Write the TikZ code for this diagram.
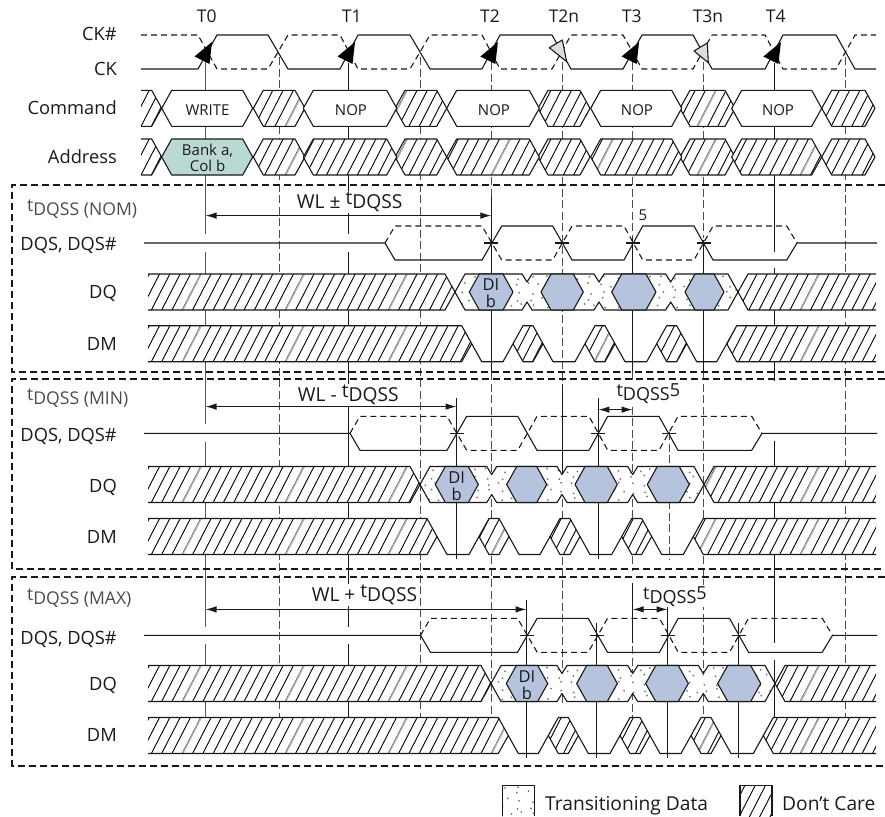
\documentclass[tikz,border=0pt]{standalone}
\usepackage{fontspec}
\usepackage{xcolor}
\usetikzlibrary{arrows.meta}
\setmainfont{Open Sans}
\definecolor{inkdark}{HTML}{1A1A1A}
\definecolor{bankteal}{HTML}{BAD8D4}
\definecolor{dataslate}{HTML}{B6C3DC}
\definecolor{edgegray}{HTML}{DDDDDD}
\newcommand{\tdqss}{\raisebox{4pt}{t}DQSS}

\tikzset{
    wave/.style={line width=1.1pt, black!90, line join=round},
    wavedash/.style={wave, dash pattern=on 6pt off 4pt},
    hatchline/.style={line width=0.9pt, black},
    hatchgray/.style={line width=1.4pt, black!30},
    dotmark/.style={black!55},
    griddash/.style={line width=1.1pt, black!70, dash pattern=on 8pt off 3.5pt},
    gridsolid/.style={line width=1.1pt, black!90},
    gridgray/.style={line width=1.5pt, black!65},
    panelline/.style={line width=1.8pt, black!90, dash pattern=on 7pt off 4pt},
    rowlabel/.style={anchor=base east, inner sep=0pt, text=inkdark, font=\fontsize{18.3}{20}\selectfont},
    panellabel/.style={anchor=base west, inner sep=0pt, text=black!70, font=\fontsize{17.6}{20}\selectfont},
    clklabel/.style={anchor=base, inner sep=0pt, text=inkdark, font=\fontsize{17.5}{20}\selectfont},
    spanlabel/.style={anchor=base, inner sep=1pt, fill=white, text=inkdark, font=\fontsize{19.2}{21}\selectfont},
    shortlabel/.style={anchor=base, inner sep=1pt, fill=white, text=inkdark, font=\fontsize{18}{21}\selectfont},
    legendlabel/.style={anchor=base west, inner sep=0pt, text=inkdark, font=\fontsize{19.2}{21}\selectfont},
    cmdlabel/.style={anchor=base, inner sep=0pt, text=inkdark, font=\fontsize{15}{16}\selectfont},
    dilabel/.style={inner sep=0pt, align=center, text=inkdark, font=\fontsize{16.5}{16.7}\selectfont},
    spanarrow/.style={{Latex[length=11pt,width=6.5pt]}-{Latex[length=11pt,width=6.5pt]}, line width=1.1pt, black!90},
}

% slanted hatching of a band around the height #1
\newcommand{\hatchlines}[1]{
    \foreach \x in {140,150.3,...,900} {
        \draw[hatchline] ({\x+9.5},{#1-18.5}) -- ({\x-9.5},{#1+18.5});
    }
    \foreach \x in {192,295,...,900} {
        \draw[hatchgray] ({\x+9.5},{#1-18.5}) -- ({\x-9.5},{#1+18.5});
    }
}
% loose dots of a band around the height #1
\newcommand{\dotlines}[1]{
    \foreach \x in {400,412,...,800} {
        \foreach \d/\o in {-14/0, -7/6, 0/2, 7/8, 14/4} {
            \fill[dotmark] ({\x+\o+3*sin(4.7*\x+23*\d)},{#1+\d+2*cos(6.1*\x+17*\d)}) circle (1pt);
        }
    }
}
% #1,#2 flat top, #3 height
\newcommand{\hexpath}[3]{({#1-10},#3) -- (#1,{#3-18}) -- (#2,{#3-18}) -- ({#2+10},#3) -- (#2,{#3+18}) -- (#1,{#3+18}) -- cycle}
\newcommand{\hatchhex}[3]{
    \fill[white] \hexpath{#1}{#2}{#3};
    \begin{scope}
        \clip \hexpath{#1}{#2}{#3};
        \hatchlines{#3}
    \end{scope}
    \draw[wave] \hexpath{#1}{#2}{#3};
}
\newcommand{\plainhex}[4]{
    \filldraw[wave, fill=#4] \hexpath{#1}{#2}{#3};
}
% hatched band cut off on the left
\newcommand{\hatchleft}[3]{
    \fill[white] (#1,{#3-18}) -- (#2,{#3-18}) -- ({#2+10},#3) -- (#2,{#3+18}) -- (#1,{#3+18}) -- cycle;
    \begin{scope}
        \clip (#1,{#3-18}) -- (#2,{#3-18}) -- ({#2+10},#3) -- (#2,{#3+18}) -- (#1,{#3+18}) -- cycle;
        \hatchlines{#3}
    \end{scope}
    \draw[wave] (#1,{#3-18}) -- (#2,{#3-18}) -- ({#2+10},#3) -- (#2,{#3+18}) -- (#1,{#3+18});
}
% hatched band cut off on the right
\newcommand{\hatchright}[3]{
    \fill[white] (#2,{#3-18}) -- (#1,{#3-18}) -- ({#1-10},#3) -- (#1,{#3+18}) -- (#2,{#3+18}) -- cycle;
    \begin{scope}
        \clip (#2,{#3-18}) -- (#1,{#3-18}) -- ({#1-10},#3) -- (#1,{#3+18}) -- (#2,{#3+18}) -- cycle;
        \hatchlines{#3}
    \end{scope}
    \draw[wave] (#2,{#3-18}) -- (#1,{#3-18}) -- ({#1-10},#3) -- (#1,{#3+18}) -- (#2,{#3+18});
}
% DQS pair: #1 height, #2 shift, #3 crossing ticks
\newcommand{\dqswave}[3]{
    \draw[wave] (144,#1) -- ({385+#2},#1) -- ({395+#2},{#1+17}) -- ({482+#2},{#1+17}) -- ({501.7+#2},{#1-17})
        -- ({552.7+#2},{#1-17}) -- ({572+#2},{#1+17}) -- ({624+#2},{#1+17}) -- ({642.7+#2},{#1-17})
        -- ({694+#2},{#1-17}) -- ({713+#2},{#1+17}) -- ({786.7+#2},{#1+17}) -- ({797+#2},#1) -- (877,#1);
    \draw[wavedash] ({385+#2},#1) -- ({395+#2},{#1-17}) -- ({482+#2},{#1-17}) -- ({501.7+#2},{#1+17})
        -- ({552.7+#2},{#1+17}) -- ({572+#2},{#1-17}) -- ({624+#2},{#1-17}) -- ({642.7+#2},{#1+17})
        -- ({694+#2},{#1+17}) -- ({713+#2},{#1-17}) -- ({786.7+#2},{#1-17}) -- ({797+#2},#1);
    \foreach \x in {#3} {
        \draw[wave] ({\x-7},#1) -- ({\x+7},#1);
    }
}
% DQ band: #1 height, #2 start of the dots, #3-#5 notches, #6 end of the dots
\newcommand{\dqpath}[6]{(#2,{#1-18}) -- ({#3-5},{#1-18}) -- (#3,{#1-10}) -- ({#3+5},{#1-18}) -- ({#4-5},{#1-18}) -- (#4,{#1-10}) -- ({#4+5},{#1-18})
    -- ({#5-5},{#1-18}) -- (#5,{#1-10}) -- ({#5+5},{#1-18}) -- (#6,{#1-18}) -- ({#6+10},#1) -- (#6,{#1+18})
    -- ({#5+5},{#1+18}) -- (#5,{#1+10}) -- ({#5-5},{#1+18}) -- ({#4+5},{#1+18}) -- (#4,{#1+10}) -- ({#4-5},{#1+18})
    -- ({#3+5},{#1+18}) -- (#3,{#1+10}) -- ({#3-5},{#1+18}) -- (#2,{#1+18}) -- ({#2-10},#1) -- cycle}
\newcommand{\dqrow}[6]{
    \hatchleft{148}{#2-20}{#1}
    \hatchright{#6+20}{876}{#1}
    \fill[white] \dqpath{#1}{#2}{#3}{#4}{#5}{#6};
    \begin{scope}
        \clip \dqpath{#1}{#2}{#3}{#4}{#5}{#6};
        \dotlines{#1}
    \end{scope}
    \draw[wave] \dqpath{#1}{#2}{#3}{#4}{#5}{#6};
}
% DM band: #1 height, #2 end of the left part, #3-#5 peaks, #6 start of the right part
\newcommand{\dmrow}[6]{
    \hatchleft{148}{#2}{#1}
    \hatchhex{#3}{#3+10}{#1}
    \hatchhex{#4}{#4+10}{#1}
    \hatchhex{#5}{#5+10}{#1}
    \hatchright{#6}{876}{#1}
    \draw[wave] ({#2+10},#1) -- ({#2+20},{#1+18}) -- ({#3-20},{#1+18}) -- ({#3-10},#1);
    \draw[wave] ({#3+20},#1) -- ({#3+30},{#1+18}) -- ({#4-20},{#1+18}) -- ({#4-10},#1);
    \draw[wave] ({#4+20},#1) -- ({#4+30},{#1+18}) -- ({#5-20},{#1+18}) -- ({#5-10},#1);
    \draw[wave] ({#5+20},#1) -- ({#5+30},{#1+18}) -- ({#6-20},{#1+18}) -- ({#6-10},#1);
}

\begin{document}
\begin{tikzpicture}[x=1pt, y=-1pt]
    \useasboundingbox (0,0) rectangle (885,816);

    % Clock edge lines
    \foreach \x/\ya/\yb in {205.5/50/234, 205.5/252/424.3, 205.5/441.7/626.7, 205.5/644/717.7} {
        \draw[gridgray] (\x,\ya) -- (\x,\yb);
    }
    \foreach \x/\ya/\yb in {348.5/63/234, 348.5/252/626.7, 348.5/644/717, 491.4/197/372, 562.4/385/476,
        632.6/238/372, 632.6/583/643, 703.5/240/372, 774.4/63/252, 774.4/268/381, 774.4/441/643, 774.4/660/717,
        456.6/398/559, 598.4/398/559, 526.6/600/758, 596.6/623/758, 667.6/605/758, 738.6/623/758} {
        \draw[gridsolid] (\x,\ya) -- (\x,\yb);
    }
    \foreach \x/\ya/\yb in {279.5/57/717, 420.6/57/717, 491.4/62/197, 491.4/372/717, 562.4/62/385, 562.4/476/706,
        632.6/62/238, 632.6/372/571, 632.6/646/717, 703.5/62/238, 703.5/372/717, 845.4/57/717, 669.4/432/559} {
        \draw[griddash] (\x,\ya) -- (\x,\yb);
    }

    % CK and CK#
    \draw[wave] (141,69) -- (198,69) -- (217,35) -- (268,35) -- (288,69) -- (340,69) -- (358,35) -- (410,35) -- (430,69)
        -- (482,69) -- (500,35) -- (552,35) -- (571,69) -- (623,69) -- (642,35) -- (693,35) -- (712,69)
        -- (765,69) -- (783,35) -- (836,35) -- (855,69) -- (876,69);
    \draw[wavedash] (141,35) -- (198,35) -- (217,69) -- (268,69) -- (288,35) -- (340,35) -- (358,69) -- (410,69) -- (430,35)
        -- (482,35) -- (500,69) -- (552,69) -- (571,35) -- (623,35) -- (642,69) -- (693,69) -- (712,35)
        -- (765,35) -- (783,69) -- (836,69) -- (855,35) -- (876,35);
    \foreach \x in {205.5,348.5,491.4,632.6,774.4} {
        \fill[black] ({\x+6.5},42) -- ({\x-11},56.5) -- ({\x+4},64) -- cycle;
    }
    \filldraw[wave, fill=edgegray] (562.3,40) -- (549.3,47.7) -- (566.7,61.7) -- cycle;
    \filldraw[wave, fill=edgegray] (707.3,43) -- (694,51) -- (708.3,62.7) -- cycle;

    % Command and Address
    \hatchleft{141}{151.7}{108.3}
    \hatchleft{141}{151.7}{157}
    \foreach \a/\b in {263.3/295, 405/436.7, 548/580, 690/725, 831.7/865} {
        \hatchhex{\a}{\b}{108.3}
        \hatchhex{\a}{\b}{157}
    }
    \foreach \a/\b in {313.3/386.7, 456.7/529.3, 600.7/671.7, 741.7/811.7} {
        \plainhex{\a}{\b}{108.3}{white}
        \hatchhex{\a}{\b}{157}
    }
    \plainhex{171.7}{242.7}{108.3}{white}
    \plainhex{171.7}{242.7}{157}{bankteal}

    % Panel NOM
    \dqswave{243}{0}{491.4,562.4,632.6,703.5}
    \dqrow{292}{465}{527}{599}{670.7}{728}
    \foreach \a/\b in {479.3/503, 551/573.3, 621.7/646, 695/714} {
        \plainhex{\a}{\b}{292}{dataslate}
    }
    \dmrow{343.7}{461.7}{523}{595}{666.7}{736.7}

    % Panel MIN
    \dqswave{433.3}{-35}{456.6,598.4,669.4}
    \dqrow{484.5}{430}{491.7}{562}{632.7}{694}
    \foreach \a/\b in {445.3/468.3, 516.7/536.7, 585/607.3, 657.3/679.3} {
        \plainhex{\a}{\b}{484.5}{dataslate}
    }
    \dmrow{536.5}{427}{489}{560}{631.7}{703.3}

    % Panel MAX
    \dqswave{635.3}{35.5}{526.6,596.6,667.6,738.6}
    \dqrow{683.5}{501}{562}{632.7}{703.3}{765}
    \foreach \a/\b in {516.3/537.7, 586.7/607.3, 655.7/678.3, 727.7/750.7} {
        \plainhex{\a}{\b}{683.5}{dataslate}
    }
    \dmrow{735.5}{498.3}{558.3}{630}{701}{773.3}

    % Dashed panel frames
    \foreach \ya/\yb in {185/372, 379/569.3, 577.3/765.7} {
        \draw[panelline] (885,\ya) -- (12,\ya) -- (12,\yb) -- (885,\yb);
    }

    % Clock names
    \foreach \name/\x/\txt in {tzero/206.7/T0, tone/351.7/T1, ttwo/490/T2, ttwon/564/T2n, tthree/631.7/T3, tthreen/708/T3n, tfour/775.7/T4} {
        \node[clklabel] (\name) at (\x,22.7) {\txt};
    }

    % Row names
    \node[rowlabel] (cknot) at (117,40.7) {CK\#};
    \node[rowlabel] (ck) at (117,75) {CK};
    \node[rowlabel] (command) at (117,114.3) {Command};
    \node[rowlabel] (address) at (117,163.3) {Address};
    \node[rowlabel] (dqsnom) at (117,250.7) {DQS, DQS\#};
    \node[rowlabel] (dqnom) at (117,298.3) {DQ};
    \node[rowlabel] (dmnom) at (117,350) {DM};
    \node[rowlabel] (dqsmin) at (117,441.7) {DQS, DQS\#};
    \node[rowlabel] (dqmin) at (117,492.3) {DQ};
    \node[rowlabel] (dmmin) at (117,543.3) {DM};
    \node[rowlabel] (dqsmax) at (117,644) {DQS, DQS\#};
    \node[rowlabel] (dqmax) at (117,690.7) {DQ};
    \node[rowlabel] (dmmax) at (117,741.7) {DM};

    % Texts in the bands
    \node[cmdlabel] (write) at (207.5,115) {WRITE};
    \foreach \name/\x in {nopa/351, nopb/494, nopc/637, nopd/778} {
        \node[cmdlabel] (\name) at (\x,115) {NOP};
    }
    \node[cmdlabel, anchor=center, align=center, font=\fontsize{15}{15.6}\selectfont] (bank) at (207.5,158) {Bank a,\\Col b};
    \node[dilabel] (dinom) at (491,293.5) {DI\\b};
    \node[dilabel] (dimin) at (456.7,486) {DI\\b};
    \node[dilabel] (dimax) at (527,685) {DI\\b};

    % Panel names
    \node[panellabel] (namenom) at (27,215) {\tdqss{} (NOM)};
    \node[panellabel] (namemin) at (27,404.3) {\tdqss{} (MIN)};
    \node[panellabel] (namemax) at (27,604.3) {\tdqss{} (MAX)};

    % Spans
    \coordinate (nomleft) at (205.5,215.6);
    \coordinate (nomright) at (491.4,215.6);
    \coordinate (minleft) at (205.5,406.6);
    \coordinate (minright) at (456.6,406.6);
    \coordinate (maxleft) at (205.5,609.4);
    \coordinate (maxright) at (526.6,609.4);
    \coordinate (minshorta) at (598.4,409.6);
    \coordinate (minshortb) at (632.6,409.6);
    \coordinate (maxshorta) at (632.6,609.4);
    \coordinate (maxshortb) at (667.6,609.4);
    \node[spanlabel] (wlnom) at (349.7,208.3) {WL ± \tdqss};
    \node[spanlabel] (wlmin) at (348.3,401.7) {WL - \tdqss};
    \node[spanlabel] (wlmax) at (364.5,601.7) {WL + \tdqss};
    \node[shortlabel] (tshortmin) at (648.3,400.7) {\tdqss\raisebox{4pt}{5}};
    \node[shortlabel] (tshortmax) at (675,603.3) {\tdqss\raisebox{4pt}{5}};
    \node[clklabel, font=\fontsize{15}{17}\selectfont] (fivenom) at (643,220.7) {5};
    \draw[spanarrow] (nomleft) -- (nomright);
    \draw[spanarrow] (minleft) -- (minright);
    \draw[spanarrow] (maxleft) -- (maxright);
    \draw[spanarrow] (minshorta) -- (minshortb);
    \draw[spanarrow] (maxshorta) -- (maxshortb);

    % Legend
    \begin{scope}
        \clip (502.3,785.7) rectangle (534.7,816);
        \dotlines{800}
    \end{scope}
    \draw[wave] (502.3,816) -- (502.3,785.7) -- (534.7,785.7) -- (534.7,816);
    \begin{scope}
        \clip (740,785.7) rectangle (772,816);
        \hatchlines{800}
    \end{scope}
    \draw[wave] (740,816) -- (740,785.7) -- (772,785.7) -- (772,816);
    \node[legendlabel] (legdata) at (545,810) {Transitioning Data};
    \node[legendlabel] (legcare) at (782,810) {Don’t Care};
\end{tikzpicture}
\end{document}
